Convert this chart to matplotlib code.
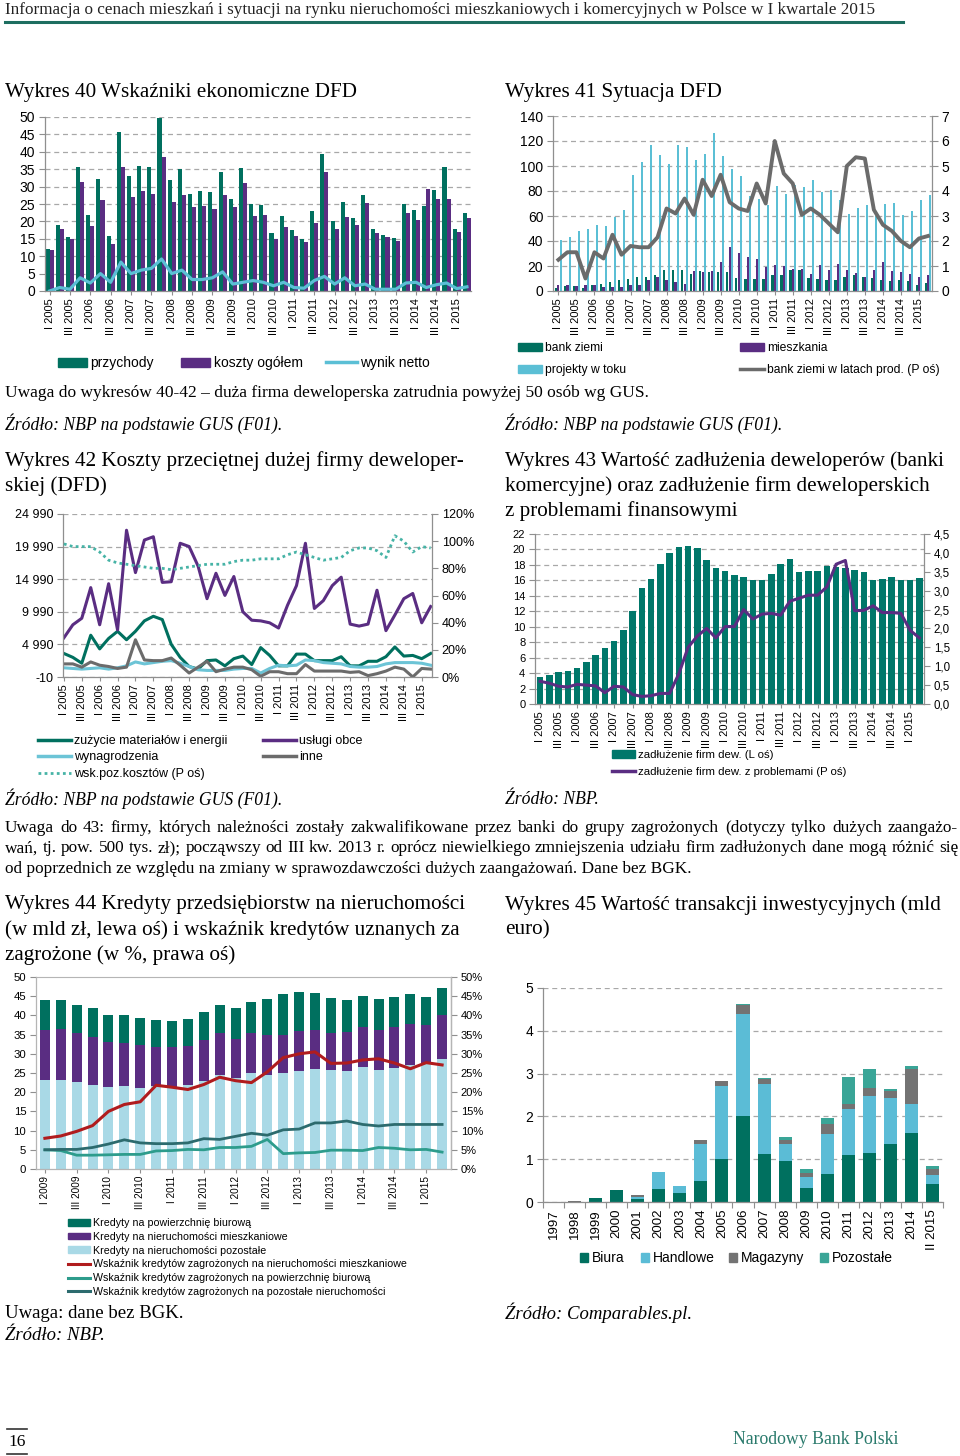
import matplotlib
matplotlib.use('Agg')
import matplotlib.pyplot as plt
from matplotlib.patches import Patch
from matplotlib.lines import Line2D
from matplotlib.ticker import FuncFormatter
import numpy as np

W, H = 960, 1456
plt.rcParams['font.family'] = ['Liberation Sans', 'DejaVu Sans']
SERIF = ['Liberation Serif', 'DejaVu Serif']
SANS = ['Liberation Sans', 'DejaVu Sans']

# ---------------- data ----------------
quarters = [f'{q} {y}' for y in range(2005, 2016) for q in ['I', 'II', 'III', 'IV']][:42]
quarters44 = [f'{q} {y}' for y in range(2009, 2016) for q in ['I', 'II', 'III', 'IV']][:26]

# Wykres 40
przychody = [12, 19, 15.5, 35.7, 21.7, 32.3, 15.7, 45.8, 33.1, 36, 35.5, 49.8, 32, 35.1, 27.9, 28.6,
             28.4, 34.1, 26.5, 35.3, 25.1, 24.8, 16.8, 21.6, 17.5, 14.9, 23.1, 39.5, 20, 25.6, 21,
             27.7, 17.7, 16.1, 15.1, 25, 23.4, 24.5, 28.9, 35.6, 17.7, 22.4]
koszty = [11.7, 17.8, 15, 31.3, 18.7, 26.2, 13.5, 35.5, 27, 28.6, 28, 38.5, 25.6, 27.7, 24.2, 24.3,
          23.7, 27.7, 24.2, 31.1, 21.5, 21.7, 15, 18.4, 15.9, 14, 19.4, 34.3, 17.7, 21.3, 18.9,
          25.2, 16.8, 15.4, 14.3, 22.3, 20.5, 29.2, 26.3, 26.4, 16.9, 21]
wynik_netto = [0, 1, 0.5, 3.8, 2.3, 5, 2.5, 8.3, 5, 6, 6.5, 9.2, 5, 6, 3.3, 3.3, 3.8, 5.5, 2, 2.5,
               3, 2.5, 1.5, 2.5, 1, 0.8, 3, 4.2, 2, 3.8, 1.5, 2, 0.5, 0.5, 0.5, 2.3, 2.5, 1, 1.8,
               2.3, 0.7, 1.2]

# Wykres 41
bank_ziemi = [2.5, 4, 4, 2.5, 4.5, 6, 7, 9, 9.5, 11, 11.5, 12.5, 17, 16.5, 17, 14, 16, 15.5, 15, 15,
              10.5, 10, 9.5, 9.5, 12.5, 12.5, 16.5, 16.5, 10.5, 10, 9, 8.5, 11, 12.5, 11.5, 10.5,
              8.5, 8, 8.5, 8, 5, 6.5]
mieszkania = [4.5, 5, 4, 4.5, 4.5, 3.5, 3, 3.5, 4.5, 4.5, 9, 11.5, 8.5, 7, 6, 16, 15.5, 16, 23.5, 35,
              30.5, 27, 25.5, 19.5, 20.5, 20, 17.5, 18, 14, 20.5, 17, 22, 17, 14.5, 11.5, 16.5, 23,
              16, 15.5, 13.5, 11, 12.5]
projekty = [41, 43, 48, 49.5, 53, 52, 59, 65, 93, 103, 117, 108.5, 102, 117, 115, 104.5, 110, 126.5,
            108, 97.5, 92, 76, 74, 69, 84, 77.5, 85, 83, 88.5, 79.5, 80.5, 72.5, 61.5, 66.5, 69, 60,
            69.5, 70.5, 61, 64, 73, 76.5]
bank_lata = [1.25, 1.55, 1.55, 0.5, 1.55, 1.3, 2.25, 1.45, 1.8, 1.75, 1.75, 2.15, 3.3, 3.1, 3.7, 3.05,
             4.45, 3.8, 4.65, 3.55, 3.3, 3.2, 4.3, 3.5, 6.0, 4.7, 4.3, 3.05, 3.3, 3.05, 2.7, 2.35,
             5.0, 5.35, 5.3, 3.25, 2.65, 2.4, 2.0, 1.75, 2.1, 2.2]

# Wykres 42
zuzycie = [3600, 3000, 2100, 6400, 4300, 5900, 7000, 5700, 7000, 8600, 9300, 8800, 5000, 3000, 1600,
           1200, 2500, 2600, 1700, 2800, 3200, 1900, 4500, 3300, 1700, 1700, 3500, 3500, 2500, 2500,
           2500, 3100, 1700, 1700, 2400, 2400, 3100, 4600, 3200, 3300, 2800, 3600]
uslugi = [6000, 8000, 9000, 13700, 8000, 14300, 7200, 22500, 16000, 21000, 21500, 14500, 14600, 20500,
          20000, 17000, 12000, 15900, 12500, 15400, 10000, 8700, 8600, 8300, 7500, 11000, 14000, 20500,
          10500, 11700, 14000, 15300, 8100, 7800, 8100, 13300, 7100, 9500, 12000, 12800, 8300, 10800]
wynagrodzenia = [1400, 1300, 1200, 1300, 1400, 1200, 1400, 1700, 2300, 2000, 2200, 2400, 2500, 2100,
                 1600, 1100, 1000, 1000, 1000, 1200, 1300, 1300, 600, 1300, 1800, 1700, 1800, 2600,
                 2500, 2200, 2100, 2000, 1600, 1500, 1500, 1600, 2000, 2200, 2200, 2200, 2100, 1800]
inne = [2000, 2000, 1500, 2300, 1800, 1600, 1300, 1500, 5700, 2600, 2500, 2500, 2900, 1800, 600, 1500,
        2400, 800, 1200, 1500, 1500, 1100, 100, 800, 800, 500, 500, 1900, 900, 900, 900, 900, 700,
        800, 200, 500, 900, 1500, 1200, 0, 1300, 1200]
wsk_poz = [0.98, 0.96, 0.96, 0.96, 0.92, 0.86, 0.84, 0.83, 0.82, 0.81, 0.80, 0.80, 0.79, 0.80, 0.81,
           0.82, 0.83, 0.83, 0.83, 0.85, 0.86, 0.86, 0.87, 0.87, 0.87, 0.90, 0.92, 0.90, 0.88, 0.86,
           0.87, 0.88, 0.93, 0.95, 0.95, 0.93, 0.88, 1.04, 1.00, 0.92, 0.96, 0.95]
y42_ticks = [-10, 4990, 9990, 14990, 19990, 24990]
y42_labels = ['-10', '4 990', '9 990', '14 990', '19 990', '24 990']

# Wykres 43
zadluzenie = [3.5, 3.8, 4.1, 4.3, 4.7, 5.4, 6.4, 7.2, 8.1, 9.6, 12, 15, 16.2, 18.1, 19.5, 20.3, 20.5,
              20.2, 18.6, 17.6, 17.2, 16.7, 16.4, 16.1, 16.1, 16.8, 18.1, 18.8, 17.1, 17.2, 17.2,
              17.9, 17.7, 17.6, 17.4, 17.1, 16.0, 16.2, 16.4, 16.1, 16.0, 16.3]
z_problemami = [0.6, 0.55, 0.47, 0.45, 0.52, 0.5, 0.48, 0.3, 0.47, 0.45, 0.25, 0.2, 0.22, 0.28, 0.28,
                0.8, 1.5, 1.8, 2.0, 1.75, 2.05, 2.05, 2.5, 2.25, 2.38, 2.4, 2.35, 2.72, 2.8, 2.88,
                2.88, 3.1, 3.7, 3.8, 2.47, 2.48, 2.6, 2.42, 2.42, 2.4, 1.95, 1.75]

# Wykres 44
kred_pozostale = [23.3, 23.3, 22.6, 22, 21.3, 21.7, 21.1, 21.5, 21.4, 21.8, 22.9, 24.5, 23.7, 25, 24.5,
                  25.1, 25.6, 26.1, 25.8, 25.6, 26.5, 25.8, 26.2, 27.2, 27.5, 28.6]
kred_mieszk = [12.9, 13.1, 12.8, 12.4, 11.9, 11.2, 11.3, 10.3, 10.5, 10.3, 10.6, 10.8, 10.1, 10.3, 10.5,
               9.9, 10.4, 10.0, 9.7, 10.0, 10.5, 10.4, 10.8, 10.6, 10.1, 11.5]
kred_biuro = [7.7, 7.5, 7.3, 7.5, 6.8, 7.1, 6.8, 7.0, 6.7, 6.9, 7.5, 7.3, 8.2, 8.2, 9.4, 10.7, 10.0,
              9.8, 9.0, 8.4, 8.0, 8.0, 7.9, 7.7, 7.3, 7.0]
wsk_mieszk = [0.080, 0.086, 0.098, 0.113, 0.150, 0.168, 0.175, 0.218, 0.213, 0.207, 0.220, 0.239, 0.230,
              0.225, 0.253, 0.290, 0.300, 0.305, 0.275, 0.276, 0.284, 0.287, 0.276, 0.261, 0.277, 0.271]
wsk_biuro = [0.050, 0.048, 0.036, 0.036, 0.037, 0.038, 0.038, 0.047, 0.048, 0.051, 0.050, 0.056, 0.056,
             0.059, 0.077, 0.040, 0.042, 0.043, 0.049, 0.049, 0.048, 0.056, 0.054, 0.050, 0.051, 0.044]
wsk_pozost = [0.050, 0.051, 0.051, 0.056, 0.065, 0.076, 0.068, 0.066, 0.066, 0.068, 0.079, 0.077, 0.085,
              0.093, 0.088, 0.102, 0.104, 0.120, 0.120, 0.125, 0.116, 0.112, 0.116, 0.116, 0.116, 0.116]

# Wykres 45
lata45 = ['1997', '1998', '1999', '2000', '2001', '2002', '2003', '2004', '2005', '2006', '2007',
          '2008', '2009', '2010', '2011', '2012', '2013', '2014', 'II 2015']
biura = [0.0, 0.01, 0.1, 0.29, 0.08, 0.3, 0.2, 0.5, 1.0, 2.0, 1.12, 0.96, 0.32, 0.65, 1.1, 1.14, 1.35, 1.62, 0.41]
handlowe = [0, 0, 0, 0, 0.04, 0.4, 0.17, 0.85, 1.72, 2.4, 1.63, 0.4, 0.26, 0.93, 1.07, 1.34, 1.09, 0.68, 0.22]
magazyny = [0, 0.02, 0, 0, 0.04, 0, 0.01, 0.1, 0.1, 0.2, 0.13, 0.09, 0.1, 0.25, 0.13, 0.18, 0.16, 0.8, 0.14]
pozostale45 = [0, 0, 0, 0, 0, 0, 0, 0, 0, 0.02, 0.02, 0.07, 0.1, 0.14, 0.62, 0.44, 0.05, 0.08, 0.08]

# ---------------- colours ----------------
C_GREEN = '#00705f'
C_PURPLE = '#5a2d82'
C_LBLUE = '#5bbfd5'
C_GREY = '#6b6b6b'
C_GRID = '#a8a8a8'
C_AX = '#8f8f8f'
C_TEAL_LINE = '#2d9c8c'
C_PALE = '#a9d9e6'
C_RED = '#b01c1e'

fig = plt.figure(figsize=(W / 100, H / 100), dpi=100)
fig.patch.set_facecolor('white')


def ax_px(l, t, r, b):
    return fig.add_axes([l / W, 1 - b / H, (r - l) / W, (b - t) / H])


def ftxt(x, y, s, fs=12, family=SERIF, ha='left', va='center', **kw):
    return fig.text(x / W, 1 - y / H, s, fontsize=fs, family=family, ha=ha, va=va, **kw)


def leg(handle, label, x, y, fs=9, hl=2.0, hh=0.6):
    lg = fig.legend([handle], [label], loc='center left', bbox_to_anchor=(x / W, 1 - y / H),
                    frameon=False, prop={'family': SANS, 'size': fs}, borderpad=0, borderaxespad=0,
                    handlelength=hl, handleheight=hh, handletextpad=0.25)
    return lg


def style(ax, grid=True, yfs=10, xfs=8, right=False):
    ax.spines['top'].set_visible(False)
    ax.spines['right'].set_visible(right)
    for s in ['left', 'bottom', 'right']:
        ax.spines[s].set_color(C_AX)
        ax.spines[s].set_linewidth(0.9)
    ax.tick_params(axis='y', length=4, width=0.8, color=C_AX, labelsize=yfs, pad=3)
    ax.tick_params(axis='x', length=3, width=0.8, color=C_AX, labelsize=xfs, pad=2)
    if grid:
        ax.yaxis.grid(True, linestyle=(0, (4, 3)), color=C_GRID, lw=0.9)
        ax.set_axisbelow(True)


def right_axis(ax, fs):
    ax2 = ax.twinx()
    for s in ['top', 'left', 'bottom']:
        ax2.spines[s].set_visible(False)
    ax2.spines['right'].set_color(C_AX)
    ax2.spines['right'].set_linewidth(0.9)
    ax2.tick_params(axis='y', length=4, width=0.8, color=C_AX, labelsize=fs, pad=3)
    return ax2


TFS = 15.2  # chart title font size

# ---------------- header ----------------
ftxt(5, 10, 'Informacja o cenach mieszkań i sytuacji na rynku nieruchomości mieszkaniowych i komercyjnych w Polsce w I kwartale 2015',
     fs=12.3, color='#222222')
fig.add_artist(Line2D([5 / W, 903 / W], [1 - 22 / H, 1 - 22 / H], color='#1d6e60', lw=2.2))

# ---------------- Wykres 40 ----------------
ftxt(5, 92, 'Wykres 40 Wskaźniki ekonomiczne DFD', fs=TFS)
ax40 = ax_px(45, 117, 471, 291)
style(ax40, yfs=10, xfs=8)
x40 = np.arange(len(przychody))
ax40.bar(x40 - 0.2, przychody, 0.4, color=C_GREEN)
ax40.bar(x40 + 0.2, koszty, 0.4, color=C_PURPLE)
ax40.plot(x40, wynik_netto, color=C_LBLUE, lw=2.3)
ax40.set_ylim(0, 50)
ax40.set_yticks(range(0, 51, 5))
ax40.set_xlim(-0.45, 41.4)
ax40.set_xticks(x40[::2])
ax40.set_xticklabels(quarters[::2], rotation=90)
leg(Patch(color=C_GREEN), 'przychody', 58, 363, fs=10, hl=2.1)
leg(Patch(color=C_PURPLE), 'koszty ogółem', 181, 363, fs=10, hl=2.1)
leg(Line2D([], [], color=C_LBLUE, lw=2.5), 'wynik netto', 326, 363, fs=10, hl=2.2)

# ---------------- Wykres 41 ----------------
ftxt(505, 92, 'Wykres 41 Sytuacja DFD', fs=TFS)
ax41 = ax_px(553, 116, 932, 291)
style(ax41, yfs=10, xfs=8)
x41 = np.arange(len(projekty))
ax41.bar(x41 - 0.25, bank_ziemi, 0.24, color=C_GREEN)
ax41.bar(x41, mieszkania, 0.24, color=C_PURPLE)
ax41.bar(x41 + 0.25, projekty, 0.24, color=C_LBLUE)
ax41.set_ylim(0, 140)
ax41.set_yticks(range(0, 141, 20))
ax41.set_xlim(-0.6, 41.45)
ax41.set_xticks(x41[::2])
ax41.set_xticklabels(quarters[::2], rotation=90)
ax41r = right_axis(ax41, 10)
ax41r.plot(x41, bank_lata, color=C_GREY, lw=2.8)
ax41r.set_ylim(0, 7)
ax41r.set_yticks(range(0, 8))
leg(Patch(color=C_GREEN), 'bank ziemi', 518, 348, fs=8.7, hl=2.0)
leg(Patch(color=C_PURPLE), 'mieszkania', 740, 348, fs=8.7, hl=2.0)
leg(Patch(color=C_LBLUE), 'projekty w toku', 518, 370, fs=8.7, hl=2.0)
leg(Line2D([], [], color=C_GREY, lw=2.5), 'bank ziemi w latach prod. (P oś)', 740, 370, fs=8.7, hl=2.0)

# ---------------- notes ----------------
ftxt(5, 393, 'Uwaga do wykresów 40-42 – duża firma deweloperska zatrudnia powyżej 50 osób wg GUS.', fs=12.5)
ftxt(5, 424, 'Źródło: NBP na podstawie GUS (F01).', fs=12.7, style='italic')
ftxt(505, 424, 'Źródło: NBP na podstawie GUS (F01).', fs=12.7, style='italic')

# ---------------- Wykres 42 ----------------
ftxt(5, 461, 'Wykres 42 Koszty przeciętnej dużej firmy deweloper-', fs=TFS)
ftxt(5, 486, 'skiej (DFD)', fs=TFS)
ax42 = ax_px(63, 514, 432, 677)
style(ax42, yfs=9, xfs=8)
x42 = np.arange(len(uslugi))
ax42.plot(x42, zuzycie, color=C_GREEN, lw=2.2)
ax42.plot(x42, uslugi, color=C_PURPLE, lw=2.2)
ax42.plot(x42, wynagrodzenia, color='#6cc4d6', lw=2.2)
ax42.plot(x42, inne, color=C_GREY, lw=2.2)
ax42.set_ylim(-10, 24990)
ax42.set_yticks(y42_ticks)
ax42.set_yticklabels(y42_labels)
ax42.set_xlim(-0.1, 41.15)
ax42.set_xticks(x42[::2])
ax42.set_xticklabels(quarters[::2], rotation=90)
ax42r = right_axis(ax42, 9)
ax42r.plot(x42, wsk_poz, color='#46b3a6', lw=2.0, linestyle=(0, (1, 1.2)))
ax42r.set_ylim(0, 1.2)
ax42r.set_yticks(np.arange(0, 1.21, 0.2))
ax42r.yaxis.set_major_formatter(FuncFormatter(lambda v, p: f'{v * 100:.0f}%'))
leg(Line2D([], [], color=C_GREEN, lw=2.5), 'zużycie materiałów i energii', 38, 741, fs=9, hl=2.6)
leg(Line2D([], [], color=C_PURPLE, lw=2.5), 'usługi obce', 263, 741, fs=9, hl=2.6)
leg(Line2D([], [], color='#6cc4d6', lw=2.5), 'wynagrodzenia', 38, 757, fs=9, hl=2.6)
leg(Line2D([], [], color=C_GREY, lw=2.5), 'inne', 263, 757, fs=9, hl=2.6)
leg(Line2D([], [], color='#46b3a6', lw=2.0, linestyle=(0, (1, 1.2))), 'wsk.poz.kosztów (P oś)', 38, 774, fs=9, hl=2.6)
ftxt(5, 799, 'Źródło: NBP na podstawie GUS (F01).', fs=12.7, style='italic')

# ---------------- Wykres 43 ----------------
ftxt(505, 461, 'Wykres 43 Wartość zadłużenia deweloperów (banki', fs=TFS)
ftxt(505, 486, 'komercyjne) oraz zadłużenie firm deweloperskich', fs=TFS)
ftxt(505, 511, 'z problemami finansowymi', fs=TFS)
ax43 = ax_px(535, 534, 924, 704)
style(ax43, yfs=8, xfs=8)
x43 = np.arange(len(zadluzenie))
ax43.bar(x43, zadluzenie, 0.72, color='#00776a')
ax43.set_ylim(0, 22)
ax43.set_yticks(range(0, 23, 2))
ax43.set_xlim(-0.55, 41.5)
ax43.set_xticks(x43[::2])
ax43.set_xticklabels(quarters[::2], rotation=90)
ax43r = right_axis(ax43, 8.3)
ax43r.plot(x43, z_problemami, color=C_PURPLE, lw=2.2)
ax43r.set_ylim(0, 4.5)
ax43r.set_yticks(np.arange(0, 4.51, 0.5))
ax43r.yaxis.set_major_formatter(FuncFormatter(lambda v, p: f'{v:.1f}'.replace('.', ',')))
leg(Patch(color='#00776a'), 'zadłużenie firm dew. (L oś)', 612, 755, fs=8.2, hl=2.0)
leg(Line2D([], [], color=C_PURPLE, lw=2.5), 'zadłużenie firm dew. z problemami (P oś)', 612, 772, fs=8.2, hl=2.0)
ftxt(505, 799, 'Źródło: NBP.', fs=12.7, style='italic')

# ---------------- paragraph (justified) ----------------
para = ['Uwaga do 43: firmy, których należności zostały zakwalifikowane przez banki do grupy zagrożonych (dotyczy tylko dużych zaangażo-',
        'wań, tj. pow. 500 tys. zł); począwszy od III kw. 2013 r. oprócz niewielkiego zmniejszenia udziału firm zadłużonych dane mogą różnić się',
        'od poprzednich ze względu na zmiany w sprawozdawczości dużych zaangażowań. Dane bez BGK.']
renderer = fig.canvas.get_renderer()
for i, line in enumerate(para):
    yy = 828 + i * 20.5
    if i < 2:
        words = line.split(' ')
        tts = [ftxt(0, yy, w, fs=12.4) for w in words]
        widths = [t.get_window_extent(renderer).width for t in tts]
        gap = (958 - 5 - sum(widths)) / (len(words) - 1)
        xx = 5
        for t, wd in zip(tts, widths):
            t.set_position((xx / W, 1 - yy / H))
            xx += wd + gap
    else:
        ftxt(5, yy, line, fs=12.4)

# ---------------- Wykres 44 ----------------
ftxt(5, 905, 'Wykres 44 Kredyty przedsiębiorstw na nieruchomości', fs=TFS)
ftxt(5, 930, '(w mld zł, lewa oś) i wskaźnik kredytów uznanych za', fs=TFS)
ftxt(5, 955, 'zagrożone (w %, prawa oś)', fs=TFS)
ax44 = ax_px(36, 977, 451, 1169)
style(ax44, grid=False, yfs=8.2, xfs=7.2, right=True)
ax44.spines['top'].set_visible(True)
for s in ['top', 'right', 'left', 'bottom']:
    ax44.spines[s].set_color('#b5b5b5')
x44 = np.arange(len(kred_biuro))
b1 = np.array(kred_pozostale)
b2 = b1 + np.array(kred_mieszk)
ax44.bar(x44, kred_pozostale, 0.63, color=C_PALE)
ax44.bar(x44, kred_mieszk, 0.63, bottom=b1, color=C_PURPLE)
ax44.bar(x44, kred_biuro, 0.63, bottom=b2, color=C_GREEN)
ax44.set_ylim(0, 50)
ax44.set_yticks(range(0, 51, 5))
ax44.set_xlim(-0.56, 25.56)
ax44.set_xticks(x44[::2])
ax44.set_xticklabels(quarters44[::2], rotation=90)
ax44r = right_axis(ax44, 8)
ax44r.spines['right'].set_color('#b5b5b5')
ax44r.plot(x44, wsk_mieszk, color=C_RED, lw=2.2)
ax44r.plot(x44, wsk_biuro, color=C_TEAL_LINE, lw=2.0)
ax44r.plot(x44, wsk_pozost, color='#2c6b6e', lw=2.0)
ax44r.set_ylim(0, 0.5)
ax44r.set_yticks(np.arange(0, 0.51, 0.05))
ax44r.yaxis.set_major_formatter(FuncFormatter(lambda v, p: f'{v * 100:.0f}%'))
leg44 = [(Patch(color=C_GREEN), 'Kredyty na powierzchnię biurową'),
         (Patch(color=C_PURPLE), 'Kredyty na nieruchomości mieszkaniowe'),
         (Patch(color=C_PALE), 'Kredyty na nieruchomości pozostałe'),
         (Line2D([], [], color=C_RED, lw=2.2), 'Wskaźnik kredytów zagrożonych na nieruchomości mieszkaniowe'),
         (Line2D([], [], color=C_TEAL_LINE, lw=2.2), 'Wskaźnik kredytów zagrożonych na powierzchnię biurową'),
         (Line2D([], [], color='#2c6b6e', lw=2.2), 'Wskaźnik kredytów zagrożonych na pozostałe nieruchomości')]
for i, (h, l) in enumerate(leg44):
    leg(h, l, 68, 1223 + i * 13.8, fs=7.7, hl=2.1)
ftxt(5, 1313, 'Uwaga: dane bez BGK.', fs=13.5)
ftxt(5, 1336, 'Źródło: NBP.', fs=13.5, style='italic')

# ---------------- Wykres 45 ----------------
ftxt(505, 905, 'Wykres 45 Wartość transakcji inwestycyjnych (mld', fs=TFS)
ftxt(505, 930, 'euro)', fs=TFS)
ax45 = ax_px(543, 988, 943, 1202)
style(ax45, yfs=10, xfs=9.5)
x45 = np.arange(len(lata45))
c1 = np.array(biura)
c2 = c1 + np.array(handlowe)
c3 = c2 + np.array(magazyny)
C45 = ['#00705f', '#5bbcd6', '#737373', '#3aa597']
ax45.bar(x45, biura, 0.62, color=C45[0])
ax45.bar(x45, handlowe, 0.62, bottom=c1, color=C45[1])
ax45.bar(x45, magazyny, 0.62, bottom=c2, color=C45[2])
ax45.bar(x45, pozostale45, 0.62, bottom=c3, color=C45[3])
ax45.set_ylim(0, 5)
ax45.set_yticks(range(0, 6))
ax45.set_xlim(-0.5, 18.5)
ax45.set_xticks(x45)
ax45.set_xticklabels(lata45, rotation=90)
ax45.tick_params(axis='x', length=0, pad=5)
ax45.set_xticks(np.arange(-0.5, 19, 1), minor=True)
ax45.tick_params(axis='x', which='minor', length=4, width=0.8, color=C_AX)
for (lab, xx), col in zip([('Biura', 580), ('Handlowe', 641), ('Magazyny', 729), ('Pozostałe', 820)], C45):
    leg(Patch(color=col), lab, xx, 1258, fs=10, hl=0.6, hh=0.6)
ftxt(505, 1313, 'Źródło: Comparables.pl.', fs=13.5, style='italic')

# ---------------- footer ----------------
fig.add_artist(Line2D([7 / W, 27 / W], [1 - 1429 / H, 1 - 1429 / H], color='#333333', lw=1.2))
fig.add_artist(Line2D([7 / W, 27 / W], [1 - 1454 / H, 1 - 1454 / H], color='#333333', lw=1.2))
ftxt(17, 1442, '16', fs=12.5, ha='center')
ftxt(898, 1439, 'Narodowy Bank Polski', fs=12.8, ha='right', color='#2a7a6c')

fig.savefig('out.png', dpi=100, facecolor='white')
